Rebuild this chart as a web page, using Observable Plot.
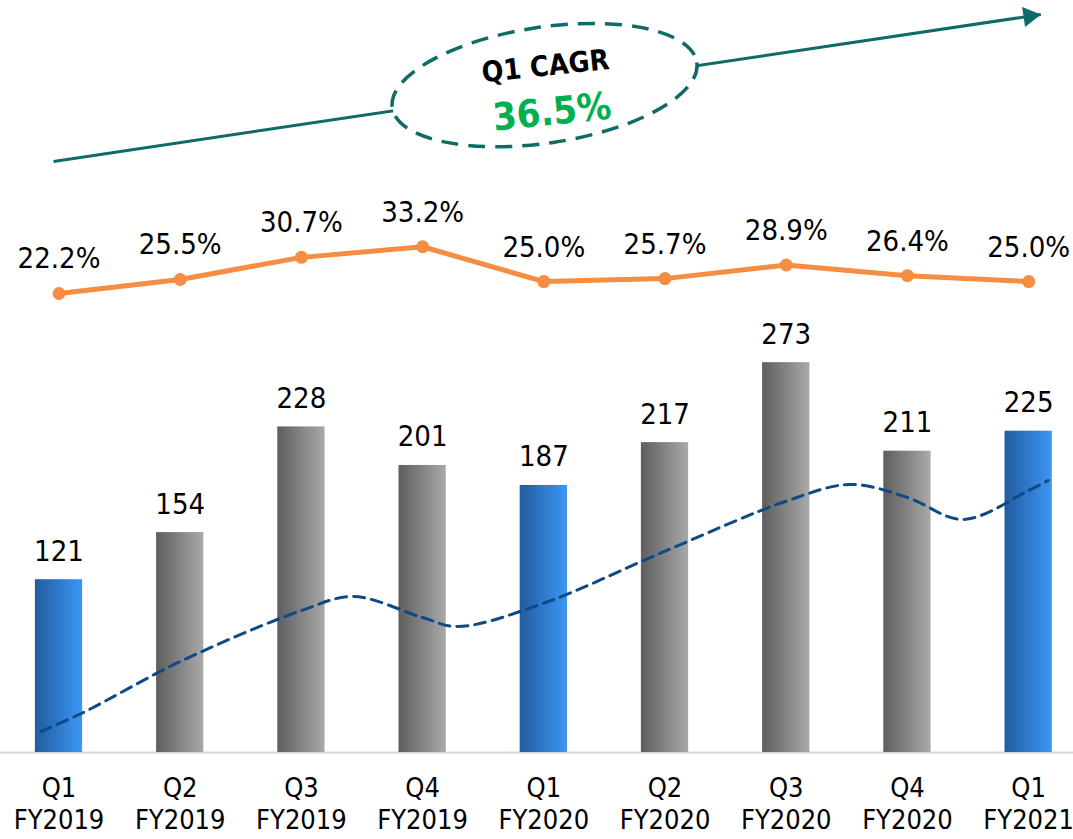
<!DOCTYPE html>
<html>
<head>
<meta charset="utf-8">
<script src="https://cdn.jsdelivr.net/npm/d3@7"></script>
<script src="https://cdn.jsdelivr.net/npm/@observablehq/plot@0.6"></script>
<style>
  html, body { margin: 0; padding: 0; background: #fff; }
  #chart { position: relative; width: 1073px; height: 839px; overflow: hidden; }
  #chart svg { position: absolute; left: 0; top: 0; display: block; }
</style>
</head>
<body>
<div id="chart"></div>
<script>
// ---- data ----
const quarters = ["Q1", "Q2", "Q3", "Q4", "Q1", "Q2", "Q3", "Q4", "Q1"];
const fiscalYears = ["FY2019", "FY2019", "FY2019", "FY2019", "FY2020", "FY2020", "FY2020", "FY2020", "FY2021"];
const revenue = [121, 154, 228, 201, 187, 217, 273, 211, 225];
const marginPct = [22.2, 25.5, 30.7, 33.2, 25.0, 25.7, 28.9, 26.4, 25.0];
// dashed trend curve (position in quarter index, value in revenue units)
const trendX = [-0.15, 0.2, 1, 2, 2.43, 3, 3.29, 4, 5, 6, 6.53, 7, 7.46, 8, 8.16];
const trendY = [14.7, 28, 63.7, 99.4, 109.2, 94.5, 88.2, 104.6, 141, 176, 187.7, 178.6, 163.2, 183.5, 190.5];
// CAGR annotation
const cagrLabel = "Q1 CAGR";
const cagrValue = "36.5%";
const cagrArrow = [{x1: -0.045, y1: 413.9, x2: 8.10, y2: 516.8}];

// ---- tables ----
const bars = revenue.map((v, i) => ({i, q: quarters[i], fy: fiscalYears[i], value: v}));
const pct = marginPct.map((v, i) => ({i, value: v}));
const trend = trendX.map((x, k) => ({x, y: trendY[k]}));

const W = 1073, H = 839;
const FONT = '"DejaVu Sans Condensed", "DejaVu Sans", sans-serif';
const xScale = {type: "linear", domain: [-0.4827, 8.370]};
const common = {
  width: W, height: H,
  marginLeft: 0, marginRight: 0, marginTop: 0, marginBottom: 87,
  style: {fontFamily: FONT, fontStretch: "condensed", background: "transparent", overflow: "visible"}
};
const teal = "#0e6b66";

// gradient definitions
function gradients() {
  const g = d3.create("svg:g");
  const defs = g.append("defs");
  const blue = defs.append("linearGradient").attr("id", "gBlue").attr("x1", 0).attr("x2", 1).attr("y1", 0).attr("y2", 0);
  blue.append("stop").attr("offset", "0%").attr("stop-color", "#215c9f");
  blue.append("stop").attr("offset", "100%").attr("stop-color", "#3c96f4");
  const grey = defs.append("linearGradient").attr("id", "gGrey").attr("x1", 0).attr("x2", 1).attr("y1", 0).attr("y2", 0);
  grey.append("stop").attr("offset", "0%").attr("stop-color", "#5e5e5e");
  grey.append("stop").attr("offset", "100%").attr("stop-color", "#a9a9a9");
  return g.node();
}

// dashed ellipse around the CAGR label, oriented along the arrow
function cagrEllipse(index, scales) {
  const a = cagrArrow[0];
  const X1 = scales.x(a.x1), Y1 = scales.y(a.y1), X2 = scales.x(a.x2), Y2 = scales.y(a.y2);
  const angle = Math.atan2(Y2 - Y1, X2 - X1) * 180 / Math.PI;
  const cx = scales.x(4.01), cy = scales.y(467);
  const rx = scales.x(4.01 + 1.27) - cx;
  const ry = scales.y(467 - 40.6) - cy;
  const g = d3.create("svg:g");
  g.append("ellipse")
    .attr("cx", cx).attr("cy", cy).attr("rx", rx).attr("ry", ry)
    .attr("transform", `rotate(${angle} ${cx} ${cy})`)
    .attr("fill", "white").attr("stroke", teal)
    .attr("stroke-width", 3.5).attr("stroke-dasharray", "17 10");
  return g.node();
}

const arrowAngle = 81.5;

const barPlot = Plot.plot({
  ...common,
  x: {...xScale, axis: null},
  y: {domain: [0, 526.6], axis: null},
  marks: [
    gradients,
    Plot.ruleY([0], {stroke: "#d9d9d9", strokeWidth: 2}),
    Plot.rectY(bars.filter(d => d.q === "Q1"), {x1: d => d.i - 0.195, x2: d => d.i + 0.195, y1: 0, y2: "value", fill: "url(#gBlue)"}),
    Plot.rectY(bars.filter(d => d.q !== "Q1"), {x1: d => d.i - 0.195, x2: d => d.i + 0.195, y1: 0, y2: "value", fill: "url(#gGrey)"}),
    Plot.text(bars, {x: "i", y: "value", text: d => String(d.value), lineAnchor: "bottom", dy: -19, fontSize: 29, fill: "black"}),
    Plot.line(trend, {x: "x", y: "y", curve: "catmull-rom", stroke: "#0d4a86", strokeWidth: 3, strokeDasharray: "11 7"}),
    Plot.link(cagrArrow, {x1: "x1", y1: "y1", x2: "x2", y2: "y2", stroke: teal, strokeWidth: 3}),
    Plot.dot(cagrArrow, {x: d => d.x2 - 0.094, y: d => d.y2 - 1.2, symbol: "triangle", r: 7.5, fill: teal, stroke: "none", rotate: arrowAngle}),
    cagrEllipse,
    Plot.text([cagrLabel], {x: 4.014, y: 480.4, text: d => d, rotate: -6, fontSize: 28.5, fontWeight: "bold", fill: "black", lineAnchor: "middle"}),
    Plot.text([cagrValue], {x: 4.068, y: 448.2, text: d => d, rotate: -6, fontSize: 38, fontWeight: "bold", fill: "#00b050", lineAnchor: "middle"}),
    Plot.text(bars, {x: "i", frameAnchor: "bottom", text: d => `${d.q}\n${d.fy}`, lineAnchor: "top", dy: 22, fontSize: 27, lineHeight: 1.17, fill: "black"})
  ]
});

const pctPlot = Plot.plot({
  ...common,
  x: {...xScale, axis: null},
  y: {domain: [-85.8, 91.14], axis: null},
  marks: [
    Plot.line(pct, {x: "i", y: "value", stroke: "#f58d42", strokeWidth: 5}),
    Plot.dot(pct, {x: "i", y: "value", r: 6.5, fill: "#f58d42", stroke: "none"}),
    Plot.text(pct, {x: "i", y: "value", text: d => d.value.toFixed(1) + "%", lineAnchor: "bottom", dy: -25, fontSize: 29, fill: "black"})
  ]
});

const chart = document.getElementById("chart");
chart.appendChild(barPlot);
chart.appendChild(pctPlot);
</script>
</body>
</html>
